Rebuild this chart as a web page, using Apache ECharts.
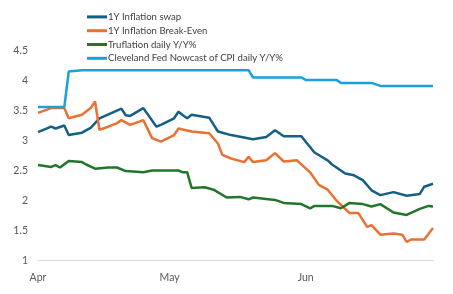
<!DOCTYPE html>
<html>
<head>
<meta charset="utf-8">
<script src="https://cdn.jsdelivr.net/npm/echarts@6/dist/echarts.min.js"></script>
<style>html,body{margin:0;padding:0;background:#fff}#c{width:453px;height:294px}</style>
</head>
<body>
<div id="c"></div>
<script>
// Daily category axis, 1 Apr – 30 Jun
const startDate = '2025-04-01';
const dayCount = 91;
const monthLabels = { '04-01': 'Apr', '05-01': 'May', '06-01': 'Jun' };
const yTicks = [1, 1.5, 2, 2.5, 3, 3.5, 4, 4.5];

const seriesNames = ['1Y Inflation swap', '1Y Inflation Break-Even', 'Truflation daily Y/Y%', 'Cleveland Fed Nowcast of CPI daily Y/Y%'];

const swapDates = ['04-01','04-04','04-05','04-07','04-08','04-11','04-13','04-15','04-20','04-21','04-22','04-25','04-28','04-29','05-02','05-03','05-04','05-05','05-06','05-10','05-12','05-15','05-20','05-23','05-25','05-27','05-31','06-01','06-03','06-06','06-07','06-10','06-12','06-14','06-16','06-18','06-21','06-24','06-27','06-28','06-30'];
const swapValues = [3.14,3.23,3.20,3.25,3.09,3.13,3.21,3.37,3.53,3.42,3.41,3.54,3.23,3.26,3.37,3.48,3.42,3.37,3.43,3.38,3.15,3.09,3.02,3.06,3.17,3.07,3.07,2.98,2.80,2.67,2.60,2.45,2.42,2.34,2.17,2.09,2.14,2.08,2.11,2.23,2.28];

const beDates = ['04-01','04-04','04-07','04-08','04-11','04-13','04-14','04-15','04-17','04-19','04-20','04-22','04-25','04-27','04-29','05-02','05-03','05-06','05-10','05-12','05-13','05-15','05-18','05-19','05-20','05-23','05-25','05-27','05-30','06-02','06-04','06-06','06-08','06-11','06-13','06-15','06-16','06-18','06-21','06-23','06-24','06-25','06-28','06-30'];
const beValues = [3.46,3.54,3.54,3.37,3.43,3.54,3.65,3.18,3.23,3.29,3.34,3.26,3.34,3.04,2.98,3.09,3.20,3.15,3.12,2.95,2.76,2.70,2.64,2.73,2.64,2.67,2.79,2.65,2.67,2.47,2.26,2.18,2.00,1.79,1.79,1.56,1.59,1.43,1.45,1.43,1.31,1.35,1.35,1.54];

const truDates = ['04-01','04-04','04-05','04-06','04-08','04-11','04-12','04-14','04-17','04-19','04-21','04-25','04-27','05-03','05-04','05-05','05-06','05-09','05-11','05-14','05-17','05-19','05-20','05-25','05-27','05-31','06-02','06-03','06-07','06-09','06-11','06-14','06-16','06-18','06-21','06-24','06-27','06-29','06-30'];
const truValues = [2.59,2.56,2.59,2.55,2.66,2.64,2.60,2.53,2.55,2.55,2.49,2.47,2.50,2.50,2.47,2.47,2.21,2.22,2.18,2.05,2.06,2.02,2.05,2.01,1.96,1.94,1.87,1.91,1.91,1.87,1.96,1.94,1.90,1.94,1.80,1.76,1.86,1.91,1.90];

const clevDates = ['04-01','04-07','04-08','04-11','05-19','05-20','05-31','06-01','06-08','06-09','06-16','06-18','06-30'];
const clevValues = [3.56,3.56,4.15,4.17,4.17,4.05,4.05,4.01,4.01,3.96,3.96,3.91,3.91];

const colors = ['#156082', '#E97132', '#23752B', '#1AA0DA'];

// build categories
const categories = [];
{
  const d0 = new Date(startDate + 'T00:00:00Z');
  for (let i = 0; i < dayCount; i++) {
    const d = new Date(d0.getTime() + i * 86400000);
    const mm = String(d.getUTCMonth() + 1).padStart(2, '0');
    const dd = String(d.getUTCDate()).padStart(2, '0');
    categories.push(mm + '-' + dd);
  }
}
const toData = (dates, vals) => dates.map((d, i) => [categories.indexOf(d), vals[i]]);

const chart = echarts.init(document.getElementById('c'), null, { renderer: 'canvas' });
const font = 'Lato, "Open Sans", sans-serif';
chart.setOption({
  animation: false,
  backgroundColor: '#ffffff',
  color: colors,
  textStyle: { fontFamily: font },
  legend: {
    orient: 'vertical',
    left: 82,
    top: 5,
    itemWidth: 20,
    itemHeight: 3,
    itemGap: 0,
    icon: 'rect',
    selectedMode: false,
    textStyle: { fontSize: 9.6, color: '#404040', fontFamily: font, padding: [0, 0, 0, -4], lineHeight: 13.8 },
    data: seriesNames
  },
  grid: { left: 38, right: 20, top: 50.5, bottom: 33.5, containLabel: false },
  xAxis: {
    type: 'category',
    data: categories,
    boundaryGap: false,
    axisLine: { lineStyle: { color: '#D9D9D9', width: 1 } },
    axisTick: { show: false },
    splitLine: { show: false },
    axisLabel: {
      interval: (idx, val) => monthLabels[val] !== undefined,
      formatter: (val) => monthLabels[val] || '',
      color: '#595959', fontSize: 10.5, fontFamily: font, margin: 12
    }
  },
  yAxis: {
    type: 'value',
    min: yTicks[0], max: yTicks[yTicks.length - 1], interval: 0.5,
    axisLine: { show: false },
    axisTick: { show: false },
    splitLine: { show: false },
    axisLabel: { color: '#595959', fontSize: 10.5, fontFamily: font, margin: 10 }
  },
  series: [
    { name: seriesNames[0], type: 'line', data: toData(swapDates, swapValues), showSymbol: false, lineStyle: { width: 2.5 } },
    { name: seriesNames[1], type: 'line', data: toData(beDates, beValues), showSymbol: false, lineStyle: { width: 2.5 } },
    { name: seriesNames[2], type: 'line', data: toData(truDates, truValues), showSymbol: false, lineStyle: { width: 2.5 } },
    { name: seriesNames[3], type: 'line', data: toData(clevDates, clevValues), showSymbol: false, lineStyle: { width: 2.5 } }
  ]
});
</script>
</body>
</html>
